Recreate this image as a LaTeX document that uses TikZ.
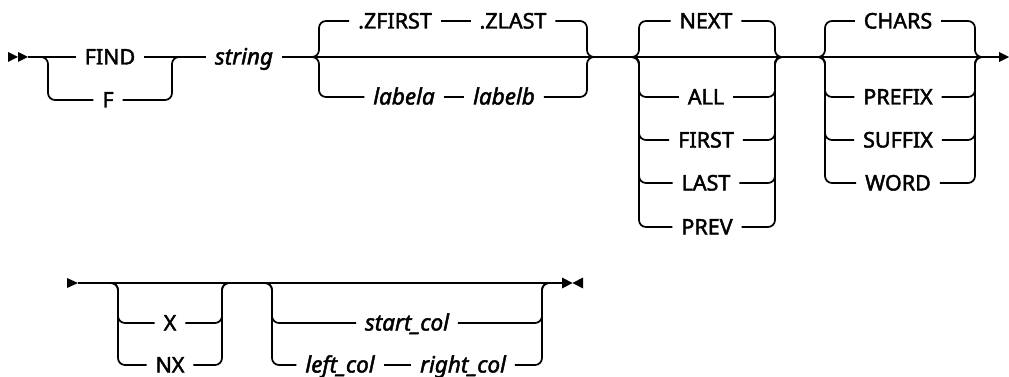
\documentclass[tikz,border=0pt]{standalone}
\usepackage{fontspec}
\setmainfont{Noto Sans}
\newfontfamily\railfont{Noto Sans}[FakeBold=2]
\newfontfamily\railitfont{Noto Sans Italic}[FakeBold=2]
\begin{document}
\begin{tikzpicture}[x=1pt,y=-1pt]
\tikzset{
  rail/.style={line width=1.7pt, rounded corners=7pt},
  kw/.style={font=\railfont\fontsize{21.5}{24}\selectfont, inner ysep=0pt, inner xsep=9pt,
    outer sep=0pt, text height=15pt, text depth=0pt, anchor=center},
  var/.style={kw, font=\railitfont\fontsize{22.5}{24}\selectfont},
  marker/.style={fill=black},
}
\useasboundingbox (0,0) rectangle (1009,377);

% ---------- row 1 ----------
\coordinate (s1) at (28,57);
\fill[marker] (8,52) -- (18,57) -- (8,62) -- cycle;
\fill[marker] (18,52) -- (28,57) -- (18,62) -- cycle;

% FIND / F
\node[kw] (find) at (110,57) {FIND};
\node[kw] (f) at (108,100) {F};
\coordinate (fdA) at (38,57);
\coordinate (fdL) at (48,57);
\coordinate (fdR) at (172,57);
\coordinate (fdB) at (182,57);
\draw[rail] (s1) -- (find.west);
\draw[rail] (find.east) -- (fdB);
\draw[rail] (fdA) -- (fdL) |- (f.west);
\draw[rail] (f.east) -| (fdR) -- (fdB);

% string
\node[var] (str) at (244,57) {string};
\draw[rail] (fdB) -- (str.west);

% .ZFIRST .ZLAST / labela labelb
\coordinate (zfA) at (312,57);
\coordinate (zfL) at (319,57);
\coordinate (zfR) at (587,57);
\coordinate (zfB) at (596,57);
\node[kw] (zfirst) at (395,21) {.ZFIRST};
\node[kw] (zlast) at (513,21) {.ZLAST};
\node[var] (labela) at (404,97) {labela};
\node[var] (labelb) at (504,97) {labelb};
\draw[rail] (zfA) -- (zfL) |- (zfirst.west);
\draw[rail] (zfirst.east) -- (zlast.west);
\draw[rail] (zlast.east) -| (zfR) -- (zfB);
\draw[rail] (zfA) -- (zfL) |- (labela.west);
\draw[rail] (labela.east) -- (labelb.west);
\draw[rail] (labelb.east) -| (zfR) -- (zfB);

% NEXT group
\coordinate (nxA) at (630,57);
\coordinate (nxL) at (639,57);
\coordinate (nxR) at (775,57);
\coordinate (nxB) at (783,57);
\node[kw] (next) at (706,21) {NEXT};
\node[kw] (all) at (706,97) {ALL};
\node[kw] (first) at (706,140) {FIRST};
\node[kw] (last) at (706,183) {LAST};
\node[kw] (prev) at (707,227) {PREV};
\foreach \n in {next,all,first,last,prev}{
  \draw[rail] (nxA) -- (nxL) |- (\n.west);
  \draw[rail] (\n.east) -| (nxR) -- (nxB);
}

% CHARS group
\coordinate (chA) at (817,57);
\coordinate (chL) at (825,57);
\coordinate (chR) at (975,57);
\coordinate (chB) at (983,57);
\node[kw] (chars) at (898,21) {CHARS};
\node[kw] (prefix) at (898,97) {PREFIX};
\node[kw] (suffix) at (898,140) {SUFFIX};
\node[kw] (word) at (898,183) {WORD};
\foreach \n in {chars,prefix,suffix,word}{
  \draw[rail] (chA) -- (chL) |- (\n.west);
  \draw[rail] (\n.east) -| (chR) -- (chB);
}

% main line row 1
\coordinate (e1) at (1000,57);
\draw[rail] (str.east) -- (e1);
\fill[marker] (999,52) -- (1009,57) -- (999,62) -- cycle;

% ---------- row 2 ----------
\coordinate (s2) at (78,283);
\fill[marker] (67,278) -- (78,283) -- (67,288) -- cycle;

\coordinate (xA) at (108,283);
\coordinate (xL) at (118,283);
\coordinate (xR) at (222,283);
\coordinate (xB) at (232,283);
\node[kw] (x) at (170,323) {X};
\node[kw] (nx) at (170,365) {NX};
\draw[rail] (xA) -- (xL) |- (x.west);
\draw[rail] (x.east) -| (xR) -- (xB);
\draw[rail] (xA) -- (xL) |- (nx.west);
\draw[rail] (nx.east) -| (xR) -- (xB);

\coordinate (scA) at (262,283);
\coordinate (scL) at (272,283);
\coordinate (scR) at (542,283);
\coordinate (scB) at (552,283);
\node[var] (startcol) at (407,323) {start\_col};
\node[var] (leftcol) at (340,365) {left\_col};
\node[var] (rightcol) at (463,365) {right\_col};
\draw[rail] (scA) -- (scL) |- (startcol.west);
\draw[rail] (startcol.east) -| (scR) -- (scB);
\draw[rail] (scA) -- (scL) |- (leftcol.west);
\draw[rail] (leftcol.east) -- (rightcol.west);
\draw[rail] (rightcol.east) -| (scR) -- (scB);

\coordinate (e2) at (562,283);
\draw[rail] (s2) -- (e2);
\fill[marker] (562,277.5) -- (572.5,283) -- (562,288.5) -- cycle;
\fill[marker] (583,277.5) -- (572.5,283) -- (583,288.5) -- cycle;
\end{tikzpicture}
\end{document}
